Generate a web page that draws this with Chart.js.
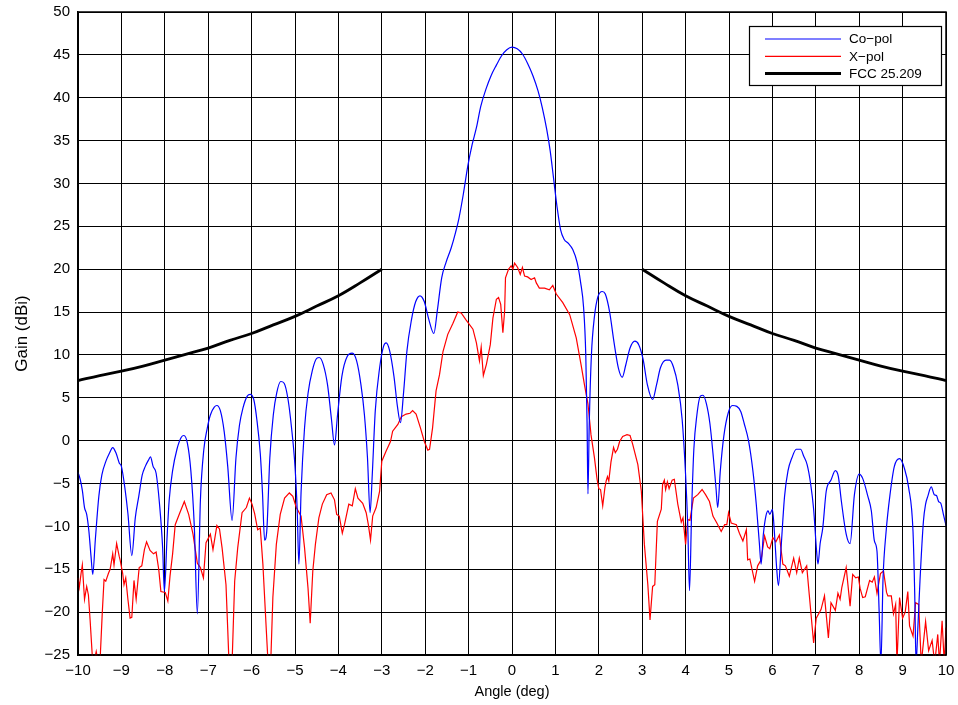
<!DOCTYPE html>
<html>
<head>
<meta charset="utf-8">
<script src="https://cdn.jsdelivr.net/npm/chart.js@4.4.1/dist/chart.umd.min.js"></script>
<style>
html,body{margin:0;padding:0;background:#fff;}
canvas{display:block;}
</style>
</head>
<body>
<canvas id="c" width="958" height="705"></canvas>
<script>
// ---- Co-pol (blue) ----
const coAngle = [-10.00,-9.95,-9.90,-9.85,-9.80,-9.75,-9.70,-9.66,-9.60,-9.52,-9.45,-9.35,-9.28,-9.20,-9.12,-9.05,-9.00,-8.92,-8.85,-8.76,-8.68,-8.60,-8.52,-8.45,-8.38,-8.33,-8.27,-8.20,-8.12,-8.05,-8.01,-7.95,-7.90,-7.82,-7.72,-7.62,-7.56,-7.48,-7.40,-7.32,-7.25,-7.18,-7.10,-7.02,-6.95,-6.86,-6.80,-6.72,-6.63,-6.55,-6.45,-6.36,-6.28,-6.20,-6.10,-6.03,-5.95,-5.88,-5.80,-5.75,-5.70,-5.65,-5.58,-5.50,-5.42,-5.33,-5.25,-5.16,-5.08,-5.00,-4.95,-4.91,-4.86,-4.78,-4.70,-4.60,-4.50,-4.44,-4.35,-4.25,-4.16,-4.09,-4.02,-3.92,-3.80,-3.68,-3.58,-3.48,-3.40,-3.33,-3.27,-3.22,-3.15,-3.05,-2.96,-2.90,-2.82,-2.72,-2.64,-2.57,-2.50,-2.42,-2.32,-2.22,-2.12,-2.02,-1.92,-1.80,-1.72,-1.62,-1.52,-1.40,-1.30,-1.22,-1.12,-1.02,-0.92,-0.82,-0.72,-0.60,-0.48,-0.36,-0.24,-0.12,0.00,0.12,0.24,0.36,0.48,0.60,0.70,0.80,0.88,0.96,1.04,1.12,1.20,1.30,1.40,1.50,1.58,1.65,1.70,1.73,1.75,1.78,1.83,1.90,1.98,2.08,2.15,2.25,2.35,2.45,2.54,2.62,2.72,2.83,2.92,3.02,3.12,3.24,3.33,3.42,3.55,3.63,3.72,3.82,3.92,4.00,4.05,4.09,4.14,4.19,4.26,4.34,4.40,4.48,4.56,4.64,4.70,4.74,4.80,4.88,4.98,5.08,5.18,5.27,5.35,5.45,5.55,5.63,5.70,5.74,5.79,5.85,5.90,5.94,6.00,6.05,6.10,6.14,6.20,6.28,6.36,6.45,6.55,6.65,6.72,6.80,6.88,6.95,7.02,7.05,7.10,7.16,7.24,7.35,7.45,7.52,7.59,7.70,7.79,7.89,8.00,8.08,8.20,8.28,8.35,8.41,8.46,8.50,8.55,8.62,8.71,8.81,8.93,9.04,9.14,9.24,9.28,9.31,9.35,9.40,9.48,9.53,9.58,9.66,9.73,9.78,9.83,9.88,9.94,10.00];
const coGain = [-3.7,-4.5,-5.8,-7.8,-8.6,-10.5,-13.5,-15.6,-11.5,-6.5,-4.0,-2.3,-1.5,-0.8,-1.5,-2.6,-3.0,-5.5,-8.5,-13.4,-9.0,-6.5,-4.0,-3.0,-2.3,-1.9,-3.0,-3.8,-7.5,-12.5,-17.6,-11.5,-7.0,-3.5,-1.0,0.4,0.6,-0.3,-3.5,-10.0,-20.2,-7.0,-1.0,1.5,3.0,3.9,4.1,3.5,1.0,-3.0,-9.3,-2.0,1.8,3.8,5.2,5.4,4.8,2.5,-1.5,-6.0,-11.6,-10.5,-2.0,3.0,5.6,6.9,6.7,4.8,1.5,-3.0,-8.0,-14.4,-6.0,1.5,5.5,8.2,9.6,9.7,8.9,6.5,2.5,-0.5,3.0,7.5,9.8,10.2,9.3,6.5,3.0,-2.0,-8.4,-4.0,3.5,8.5,11.0,11.4,10.5,7.5,4.0,2.1,5.5,10.5,14.0,16.2,16.9,16.2,14.2,12.5,15.2,19.0,20.8,22.5,24.3,26.0,28.8,32.0,34.5,36.5,39.0,41.0,42.6,43.8,44.9,45.6,45.9,45.7,45.1,44.0,42.6,40.8,38.8,36.3,33.8,30.5,27.2,24.6,23.5,23.0,22.3,20.8,18.5,15.5,10.0,2.0,-6.2,2.0,10.0,14.5,16.8,17.4,17.1,15.0,11.5,8.5,7.4,8.8,10.8,11.6,11.2,9.5,6.5,4.8,6.5,8.5,9.4,9.4,8.6,6.5,2.5,-4.0,-10.0,-17.5,-8.0,-1.0,3.0,5.2,5.3,4.3,2.0,-2.0,-5.5,-7.8,-3.5,0.5,3.2,4.1,4.0,3.4,2.0,0.0,-3.5,-7.5,-12.0,-14.4,-11.0,-8.8,-8.2,-8.6,-8.0,-11.0,-15.0,-16.9,-12.5,-6.5,-3.5,-2.0,-1.0,-1.0,-1.8,-2.8,-5.0,-8.0,-13.0,-14.4,-12.0,-10.2,-5.9,-4.6,-3.5,-4.2,-7.1,-10.9,-12.0,-6.3,-3.9,-4.4,-6.5,-8.2,-11.7,-12.9,-20.0,-26.0,-16.0,-10.6,-6.3,-3.0,-2.1,-3.2,-5.5,-10.6,-18.0,-26.0,-22.0,-16.4,-9.4,-7.4,-6.5,-5.4,-6.3,-6.4,-7.1,-7.3,-8.6,-9.9];

// ---- X-pol (red) ----
const xAngle = [-10.00,-9.97,-9.93,-9.90,-9.85,-9.80,-9.76,-9.72,-9.66,-9.62,-9.58,-9.53,-9.49,-9.44,-9.40,-9.36,-9.30,-9.26,-9.20,-9.17,-9.11,-9.05,-9.03,-8.97,-8.94,-8.90,-8.85,-8.80,-8.76,-8.71,-8.66,-8.59,-8.53,-8.47,-8.42,-8.34,-8.26,-8.20,-8.14,-8.09,-7.99,-7.93,-7.88,-7.82,-7.76,-7.66,-7.55,-7.45,-7.35,-7.25,-7.18,-7.11,-7.05,-6.95,-6.89,-6.80,-6.74,-6.68,-6.59,-6.55,-6.52,-6.45,-6.39,-6.32,-6.22,-6.12,-6.05,-5.99,-5.93,-5.86,-5.80,-5.74,-5.66,-5.62,-5.56,-5.51,-5.43,-5.34,-5.24,-5.13,-5.05,-4.97,-4.86,-4.78,-4.70,-4.65,-4.59,-4.53,-4.45,-4.37,-4.27,-4.17,-4.09,-4.04,-3.98,-3.91,-3.86,-3.76,-3.68,-3.61,-3.55,-3.44,-3.36,-3.31,-3.26,-3.21,-3.13,-3.05,-3.00,-2.90,-2.80,-2.75,-2.63,-2.55,-2.44,-2.35,-2.29,-2.21,-2.11,-2.02,-1.94,-1.90,-1.83,-1.75,-1.67,-1.59,-1.48,-1.36,-1.25,-1.17,-1.06,-0.90,-0.82,-0.75,-0.71,-0.66,-0.59,-0.50,-0.44,-0.36,-0.31,-0.26,-0.21,-0.17,-0.15,-0.08,-0.02,0.02,0.06,0.13,0.19,0.24,0.29,0.36,0.44,0.52,0.56,0.63,0.75,0.86,0.94,1.02,1.17,1.33,1.48,1.59,1.67,1.75,1.82,1.90,1.96,2.00,2.04,2.09,2.14,2.17,2.20,2.23,2.28,2.34,2.38,2.43,2.48,2.55,2.65,2.72,2.78,2.90,2.98,3.05,3.13,3.18,3.24,3.29,3.35,3.44,3.47,3.51,3.54,3.58,3.62,3.69,3.74,3.82,3.90,3.94,4.00,4.05,4.10,4.18,4.28,4.38,4.46,4.55,4.63,4.72,4.82,4.90,4.95,4.99,5.05,5.17,5.24,5.32,5.40,5.43,5.48,5.59,5.66,5.74,5.82,5.89,5.94,6.01,6.08,6.16,6.24,6.30,6.39,6.49,6.56,6.62,6.69,6.79,6.85,6.95,7.01,7.12,7.20,7.29,7.35,7.45,7.51,7.56,7.60,7.70,7.79,7.85,7.92,7.98,8.02,8.08,8.14,8.24,8.30,8.35,8.41,8.49,8.56,8.63,8.66,8.74,8.79,8.84,8.87,8.93,9.00,9.06,9.12,9.16,9.24,9.30,9.37,9.43,9.53,9.60,9.68,9.74,9.81,9.85,9.91,9.96,10.00];
const xGain = [-16.0,-17.1,-15.5,-14.5,-18.5,-17.0,-18.0,-21.0,-26.0,-25.5,-24.6,-26.0,-25.5,-20.0,-16.2,-16.4,-15.5,-15.0,-13.2,-14.5,-12.0,-13.5,-13.9,-15.5,-16.8,-16.0,-18.5,-20.7,-20.6,-16.3,-18.5,-14.8,-14.6,-12.7,-11.8,-12.8,-13.2,-13.0,-15.0,-17.6,-17.7,-18.7,-15.8,-13.2,-9.8,-8.5,-7.1,-8.6,-10.9,-14.3,-14.8,-16.0,-11.9,-10.9,-12.7,-9.9,-10.3,-12.5,-16.8,-22.0,-26.0,-26.0,-16.4,-12.5,-8.4,-7.8,-6.7,-7.4,-8.5,-10.4,-10.2,-14.4,-22.2,-26.0,-26.0,-18.3,-12.1,-8.6,-6.7,-6.1,-6.5,-7.8,-8.8,-12.5,-17.2,-21.3,-15.2,-12.1,-9.0,-7.4,-6.3,-6.1,-6.9,-8.6,-8.8,-10.8,-9.8,-7.4,-7.6,-5.6,-6.7,-7.3,-8.4,-9.8,-11.6,-8.8,-7.8,-5.9,-2.4,-1.2,-0.1,1.1,1.9,2.8,3.1,3.2,3.5,3.1,1.5,-0.1,-1.1,-1.0,1.5,5.8,7.7,10.4,12.4,13.7,15.0,14.9,14.1,13.0,11.4,9.3,10.9,7.6,8.9,11.2,14.3,16.5,16.7,15.9,12.6,15.1,19.0,20.0,20.4,20.0,20.7,20.2,19.4,20.2,19.2,19.1,18.8,19.0,18.4,17.8,17.8,17.6,18.1,17.1,16.1,14.7,12.0,8.9,6.5,4.3,0.7,-2.0,-4.5,-5.6,-5.7,-7.6,-5.5,-4.7,-4.2,-4.7,-2.5,-0.8,-1.4,-1.0,-0.1,0.5,0.7,0.6,-0.4,-2.8,-5.9,-12.1,-16.8,-20.9,-17.0,-16.8,-9.4,-8.0,-5.1,-4.6,-5.7,-4.8,-5.6,-4.6,-4.5,-7.4,-9.5,-9.0,-12.1,-9.2,-9.3,-6.7,-6.3,-5.7,-6.3,-7.1,-8.8,-9.6,-10.6,-9.8,-9.8,-8.4,-9.6,-9.8,-10.8,-11.7,-10.4,-13.9,-13.8,-16.4,-14.6,-13.9,-11.1,-12.4,-12.6,-11.3,-11.8,-11.0,-14.4,-14.6,-15.8,-13.7,-15.4,-13.7,-15.4,-14.6,-18.0,-23.6,-20.7,-19.7,-18.1,-23.0,-18.9,-19.8,-17.8,-18.5,-17.1,-14.8,-19.3,-15.6,-16.0,-15.9,-17.2,-18.3,-18.2,-16.3,-16.5,-15.9,-17.8,-15.5,-15.2,-17.7,-18.1,-18.1,-20.2,-19.1,-26.0,-18.3,-20.7,-20.0,-17.6,-21.6,-22.8,-18.9,-19.1,-26.0,-21.1,-24.5,-23.3,-26.0,-22.6,-26.0,-21.0,-26.0,-21.8];

// ---- FCC 25.209 mask (black) ----
const fccLeftAngle = [-10,-9.5,-9,-8.5,-8,-7.5,-7,-6.5,-6,-5.5,-5,-4.5,-4,-3.5,-3];
const fccLeftGain  = [7.0,7.6,8.1,8.7,9.4,10.1,10.8,11.7,12.5,13.5,14.5,15.7,16.9,18.4,20.0];
const fccRightAngle = [3,3.5,4,4.5,5,5.5,6,6.5,7,7.5,8,8.5,9,9.5,10];
const fccRightGain  = [20.0,18.4,16.9,15.7,14.5,13.5,12.5,11.7,10.8,10.1,9.4,8.7,8.1,7.6,7.0];

// ---- axis ticks / labels ----
const xTickStep = 1, xMin = -10, xMax = 10;
const yTickStep = 5, yMin = -25, yMax = 50;
const legendLabels = ['Co\u2212pol', 'X\u2212pol', 'FCC 25.209'];
const xTitle = 'Angle (deg)';
const yTitle = 'Gain (dBi)';

const pts = (xs, ys) => xs.map((x, i) => ({x: x, y: ys[i]}));
const FONT = "'Liberation Sans', Arial, Helvetica, sans-serif";
const fmt = v => (v < 0 ? '\u2212' + Math.abs(v) : String(v));

const frameAndLegend = {
  id: 'frameAndLegend',
  afterDraw(chart) {
    const {ctx, chartArea: a} = chart;
    ctx.save();
    ctx.strokeStyle = '#000';
    ctx.lineWidth = 1.5;
    ctx.strokeRect(a.left, a.top, a.right - a.left, a.bottom - a.top);
    // legend box
    const bx = 749.5, by = 26.5, bw = 192, bh = 59;
    ctx.fillStyle = '#fff';
    ctx.fillRect(bx, by, bw, bh);
    ctx.lineWidth = 1.2;
    ctx.strokeRect(bx, by, bw, bh);
    const items = [
      {label: legendLabels[0], color: '#0000ff', w: 1.2},
      {label: legendLabels[1], color: '#ff0000', w: 1.2},
      {label: legendLabels[2], color: '#000000', w: 3}
    ];
    ctx.font = "13.5px " + FONT;
    ctx.textBaseline = 'middle';
    ctx.textAlign = 'left';
    items.forEach((it, i) => {
      const y = 39 + i * 17.3;
      ctx.strokeStyle = it.color;
      ctx.lineWidth = it.w;
      ctx.beginPath();
      ctx.moveTo(765, y);
      ctx.lineTo(841, y);
      ctx.stroke();
      ctx.fillStyle = '#000';
      ctx.fillText(it.label, 849, y + 0.5);
    });
    ctx.restore();
  }
};

new Chart(document.getElementById('c'), {
  type: 'scatter',
  data: {
    datasets: [
      {label: legendLabels[0], data: pts(coAngle, coGain), showLine: true, borderColor: '#0000ff', borderWidth: 1.2, pointRadius: 0, cubicInterpolationMode: 'monotone', clip: 1},
      {label: legendLabels[1], data: pts(xAngle, xGain), showLine: true, borderColor: '#ff0000', borderWidth: 1.2, pointRadius: 0, tension: 0, clip: 1},
      {label: legendLabels[2], data: pts(fccLeftAngle, fccLeftGain), showLine: true, borderColor: '#000000', borderWidth: 2.8, pointRadius: 0, tension: 0.4, clip: 2},
      {label: legendLabels[2] + ' ', data: pts(fccRightAngle, fccRightGain), showLine: true, borderColor: '#000000', borderWidth: 2.8, pointRadius: 0, tension: 0.4, clip: 2}
    ]
  },
  options: {
    responsive: false,
    devicePixelRatio: 1,
    animation: false,
    layout: {padding: {top: 12, right: 12, left: 0, bottom: 0}},
    plugins: {legend: {display: false}, tooltip: {enabled: false}},
    scales: {
      x: {
        type: 'linear', min: xMin, max: xMax,
        ticks: {stepSize: xTickStep, color: '#000', font: {family: FONT, size: 15}, padding: 7, callback: fmt, maxRotation: 0},
        grid: {color: '#000', lineWidth: 1, drawTicks: false},
        border: {color: '#000', width: 1.5},
        title: {display: true, text: xTitle, color: '#000', font: {family: FONT, size: 14.5}, padding: {top: 0, bottom: 4}},
        afterFit: s => { s.height = 50; s.paddingLeft = 0; s.paddingRight = 0; }
      },
      y: {
        type: 'linear', min: yMin, max: yMax,
        ticks: {stepSize: yTickStep, color: '#000', font: {family: FONT, size: 15}, padding: 8, callback: fmt},
        grid: {color: '#000', lineWidth: 1, drawTicks: false},
        border: {color: '#000', width: 1.5},
        title: {display: true, text: yTitle, color: '#000', font: {family: FONT, size: 17}, padding: {top: 12, bottom: 0}},
        afterFit: s => { s.width = 78; s.paddingTop = 0; s.paddingBottom = 0; }
      }
    }
  },
  plugins: [frameAndLegend]
});
</script>
</body>
</html>
